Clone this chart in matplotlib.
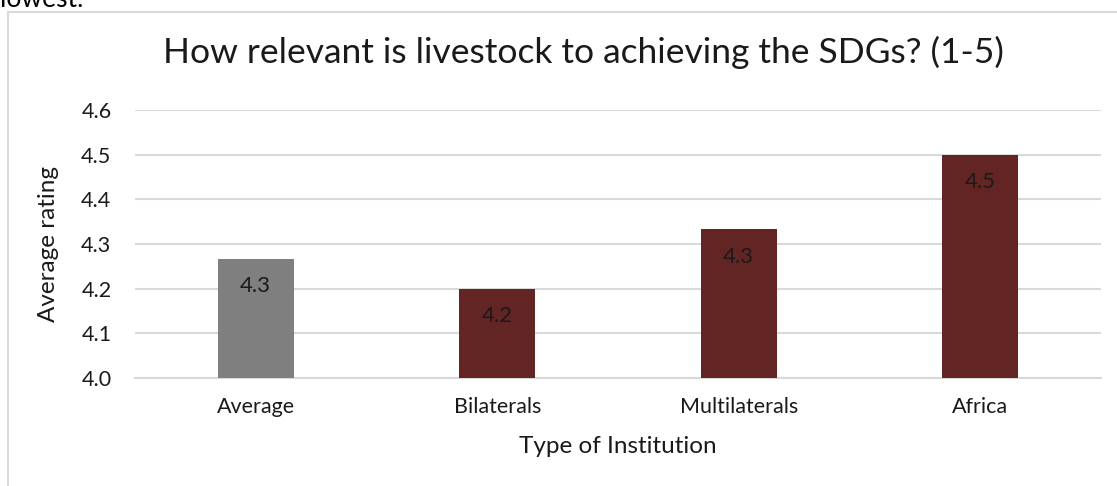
import matplotlib.pyplot as plt
from matplotlib.patches import Rectangle

plt.rcParams['font.family'] = ['Lato', 'DejaVu Sans']

# Average rating per type of institution
categories = ['Average', 'Bilaterals', 'Multilaterals', 'Africa']
ratings = [4.267, 4.2, 4.333, 4.5]
bar_colors = ['#7f7f7f', '#632523', '#632523', '#632523']

fig = plt.figure(figsize=(11.17, 4.86), dpi=100)
ax = fig.add_axes([135 / 1117, 1 - 378 / 486, 966 / 1117, 268 / 486])

x = range(len(categories))
bars = ax.bar(x, [r - 4.0 for r in ratings], bottom=4.0, width=0.315,
              color=bar_colors, zorder=3)

for b, r in zip(bars, ratings):
    ax.text(b.get_x() + b.get_width() / 2, r - 0.062, f'{r:.1f}',
            ha='center', va='center', fontsize=16, color='#1a1a1a', zorder=4)

ax.set_ylim(4.0, 4.6)
ax.set_xlim(-0.5, 3.5)
ax.set_yticks([4.0, 4.1, 4.2, 4.3, 4.4, 4.5, 4.6])
ax.set_yticklabels([f'{v:.1f}' for v in ax.get_yticks()])
ax.set_xticks(list(x))
ax.set_xticklabels(categories)
ax.tick_params(axis='both', length=0, labelsize=15.5, colors='#1a1a1a')
ax.tick_params(axis='x', pad=14)
ax.tick_params(axis='y', pad=17)
ax.grid(axis='y', color='#d9d9d9', linewidth=1.5, zorder=0)
for s in ['top', 'right', 'left']:
    ax.spines[s].set_visible(False)
ax.spines['bottom'].set_color('#d9d9d9')
ax.spines['bottom'].set_linewidth(1.5)

ax.set_xlabel('Type of Institution', fontsize=17.5, color='#1a1a1a', labelpad=13)
ax.set_ylabel('Average rating', fontsize=17.5, color='#1a1a1a')
ax.yaxis.set_label_coords(-0.079, 0.5)
fig.text(0.522, 1 - 52 / 486, 'How relevant is livestock to achieving the SDGs? (1-5)',
         ha='center', va='center', fontsize=25.5, color='#1a1a1a')

# chart frame and the end of the preceding paragraph
fig.patches.append(Rectangle((8 / 1117, -0.1), 1.2, 1.1 - 12 / 486,
                             transform=fig.transFigure, fill=False,
                             edgecolor='#d9d9d9', linewidth=1.5))
fig.text(0.0, 1 - 7 / 486, 'lowest.', ha='left', va='baseline', fontsize=19, color='black')

fig.savefig('out.png', dpi=100)
